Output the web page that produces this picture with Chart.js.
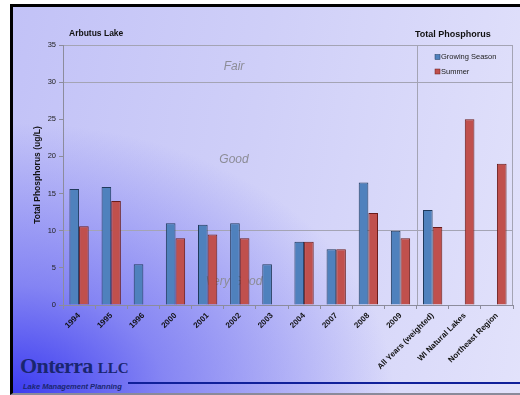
<!DOCTYPE html>
<html>
<head>
<meta charset="utf-8">
<script src="https://cdn.jsdelivr.net/npm/chart.js@4/dist/chart.umd.min.js"></script>
<style>
  body { margin: 0; background: #fff; font-family: "Liberation Sans", Arial, sans-serif; }
  #wrap { position: relative; width: 520px; height: 395px; overflow: hidden; }
  #frame {
    position: absolute; left: 10px; top: 4px; width: 507px; height: 386px;
    border-left: 3px solid #000; border-top: 3px solid #000; border-bottom: 2px solid #8a8a9a;
    background:
      radial-gradient(ellipse 75% 70% at 0% 100%, rgba(60,60,240,1) 0%, rgba(110,110,242,0.75) 40%, rgba(190,190,248,0) 100%),
      linear-gradient(100deg, #c2c2f7 0%, #cfcff8 45%, #e2e2fb 100%);
  }
  #logo { position: absolute; left: 20px; top: 355px; color: #1a2670; }
  #logo .name { font-family: "Liberation Serif", "DejaVu Serif", serif; font-size: 22px; font-weight: bold; letter-spacing: -0.6px; line-height: 22px; }
  #logo .name small { font-size: 15px; letter-spacing: 0; }
  #logo .tag { font-family: "Liberation Sans", Arial, sans-serif; font-size: 7.5px; font-style: italic; font-weight: bold; margin: 3px 0 0 3px; line-height: 10px; }
  #rule { position: absolute; left: 128px; top: 382px; width: 392px; height: 2px; background: #10209a; }
  canvas { position: absolute; left: 0; top: 0; }
</style>
</head>
<body>
<div id="wrap">
  <div id="frame"></div>
  <div id="logo"><div class="name">Onterra <small>LLC</small></div><div class="tag">Lake Management Planning</div></div>
  <div id="rule"></div>
  <canvas id="tp" width="520" height="395"></canvas>
</div>
<script>
// sampling periods / comparison groups
var labels = ["1994", "1995", "1996", "2000", "2001", "2002", "2003", "2004", "2007", "2008", "2009",
  "All Years (weighted)", "WI Natural Lakes", "Northeast Region"];
var growing = [15.6, 15.9, 5.5, 11.0, 10.8, 11.0, 5.5, 8.5, 7.5, 16.5, 10.0, 12.8, null, null];
var summer = [10.6, 14.0, null, 9.0, 9.5, 9.0, null, 8.5, 7.5, 12.4, 9.0, 10.5, 25.0, 19.0];

// trophic zones and the y value where each name sits
var zoneNames = ["Fair", "Good", "Very Good"];
var zoneLabelY = [32.1, 19.6, 3.1];
var zoneLines = [35, 30, 10];

var yTicks = { min: 0, max: 35, step: 5 };

var BLUE = "#4f81bd", RED = "#c0504d";

var extras = {
  id: "extras",
  beforeDatasetsDraw: function (chart) {
    var c = chart.ctx, a = chart.chartArea, x = chart.scales.x, y = chart.scales.y;
    c.save();
    // zone names sit behind the bars
    c.font = "italic 12px 'Liberation Sans', Arial, sans-serif";
    c.fillStyle = "#8c8c96";
    c.textAlign = "center";
    c.textBaseline = "middle";
    var zx = a.left + (a.right - a.left) * 0.38;
    for (var i = 0; i < zoneNames.length; i++) {
      c.fillText(zoneNames[i], zx, y.getPixelForValue(zoneLabelY[i]));
    }
    // divider between lake years and the comparison groups, plus right edge
    var split = (x.getPixelForValue(10) + x.getPixelForValue(11)) / 2;
    c.strokeStyle = "#a4a4b4";
    c.lineWidth = 1;
    c.beginPath();
    c.moveTo(Math.round(split) + 0.5, a.top);
    c.lineTo(Math.round(split) + 0.5, a.bottom);
    c.moveTo(Math.round(a.right) - 0.5, a.top);
    c.lineTo(Math.round(a.right) - 0.5, a.bottom);
    c.stroke();
    c.restore();
  },
  afterDraw: function (chart) {
    var c = chart.ctx;
    c.save();
    c.fillStyle = "#111";
    c.textBaseline = "middle";
    c.font = "bold 8.5px 'Liberation Sans', Arial, sans-serif";
    c.fillText("Arbutus Lake", 69, 34);
    c.font = "bold 9px 'Liberation Sans', Arial, sans-serif";
    c.fillText("Total Phosphorus", 415, 35);
    // legend
    var items = chart.data.datasets;
    c.font = "7.5px 'Liberation Sans', Arial, sans-serif";
    for (var i = 0; i < items.length; i++) {
      var ly = 57 + i * 14.5;
      c.fillStyle = items[i].backgroundColor;
      c.fillRect(435, ly - 2.5, 5, 5);
      c.strokeStyle = items[i].borderColor;
      c.lineWidth = 0.5;
      c.strokeRect(435, ly - 2.5, 5, 5);
      c.fillStyle = "#222";
      c.fillText(items[i].label, 441, ly);
    }
    c.restore();
  }
};

new Chart(document.getElementById("tp"), {
  type: "bar",
  data: {
    labels: labels,
    datasets: [
      { label: "Growing Season", data: growing, backgroundColor: BLUE, borderColor: "#203a5c", borderWidth: 1,
        categoryPercentage: 0.6, barPercentage: 1.0 },
      { label: "Summer", data: summer, backgroundColor: RED, borderColor: "#6a1c1a", borderWidth: 1,
        categoryPercentage: 0.6, barPercentage: 1.0 }
    ]
  },
  options: {
    responsive: false,
    animation: false,
    layout: { padding: { top: 45, right: 7, left: 0, bottom: 0 } },
    plugins: { legend: { display: false }, tooltip: { enabled: false } },
    scales: {
      x: {
        offset: true,
        afterFit: function (s) { s.height = 90; },
        grid: { offset: true, drawOnChartArea: false, tickLength: 4, tickColor: "#8c8c9c" },
        border: { color: "#8c8c9c" },
        ticks: {
          autoSkip: false, maxRotation: 45, minRotation: 45, padding: 2,
          color: "#111", font: { family: "'Liberation Sans', Arial, sans-serif", size: 8, weight: "bold" }
        }
      },
      y: {
        min: yTicks.min, max: yTicks.max,
        afterFit: function (s) { s.width = 63; },
        grid: {
          tickLength: 4, tickColor: "#8c8c9c",
          color: function (ctx) { return zoneLines.indexOf(ctx.tick.value) >= 0 ? "#a4a4b4" : "rgba(0,0,0,0)"; }
        },
        border: { color: "#8c8c9c" },
        ticks: {
          stepSize: yTicks.step, padding: 3, color: "#222",
          font: { family: "'Liberation Sans', Arial, sans-serif", size: 7.5 }
        },
        title: {
          display: true, text: "Total Phosphorus (ug/L)", color: "#111",
          padding: { top: 33, bottom: 0 },
          font: { family: "'Liberation Sans', Arial, sans-serif", size: 8.5, weight: "bold" }
        }
      }
    }
  },
  plugins: [extras]
});
</script>
</body>
</html>
